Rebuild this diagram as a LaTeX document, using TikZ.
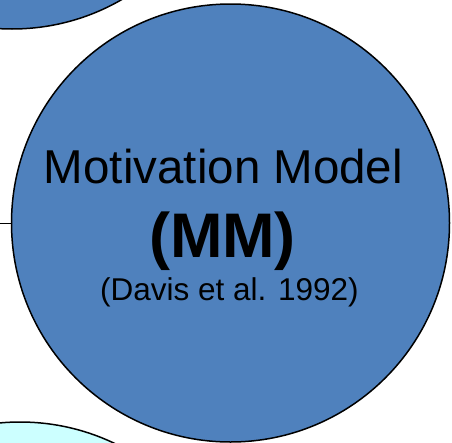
\documentclass[tikz,border=0pt]{standalone}
\usepackage{fontspec}
\setmainfont{Liberation Sans}
\usetikzlibrary{positioning}

\definecolor{mmblue}{HTML}{4F81BD}
\definecolor{mmcyan}{HTML}{CCFFFF}

\tikzset{
  model/.style={circle, draw=black, line width=1.5pt, inner sep=0pt,
    minimum size=2*\radius pt},
  label/.style={anchor=base, inner sep=0pt, text=black}
}

\begin{document}
\begin{tikzpicture}[x=1pt, y=-1pt]

% Circle radius
\def\radius{219}

\useasboundingbox (0,0) rectangle (452,442);

% Neighbouring models
\node[model, fill=mmblue] (upper) at (12,-190) {};
\node[model, fill=mmcyan] (lower) at (20,641) {};

% Main model
\node[model, fill=mmblue] (mm) at (230.5,223) {};

% Link coming in from the left
\coordinate (link) at (-30,223);
\draw[line width=1pt] (link) -- (mm.west);

% Texts
\node[label] (title) at (223.5,183) {\fontsize{47.5}{57}\selectfont Motivation Model};
\node[label] (abbr)  at (222.5,257) {\fontsize{63}{75}\selectfont\bfseries (MM)};
\node[label] (cite)  at (229.5,300) {\fontsize{31.5}{38}\selectfont (Davis et al. 1992)};

\end{tikzpicture}
\end{document}
